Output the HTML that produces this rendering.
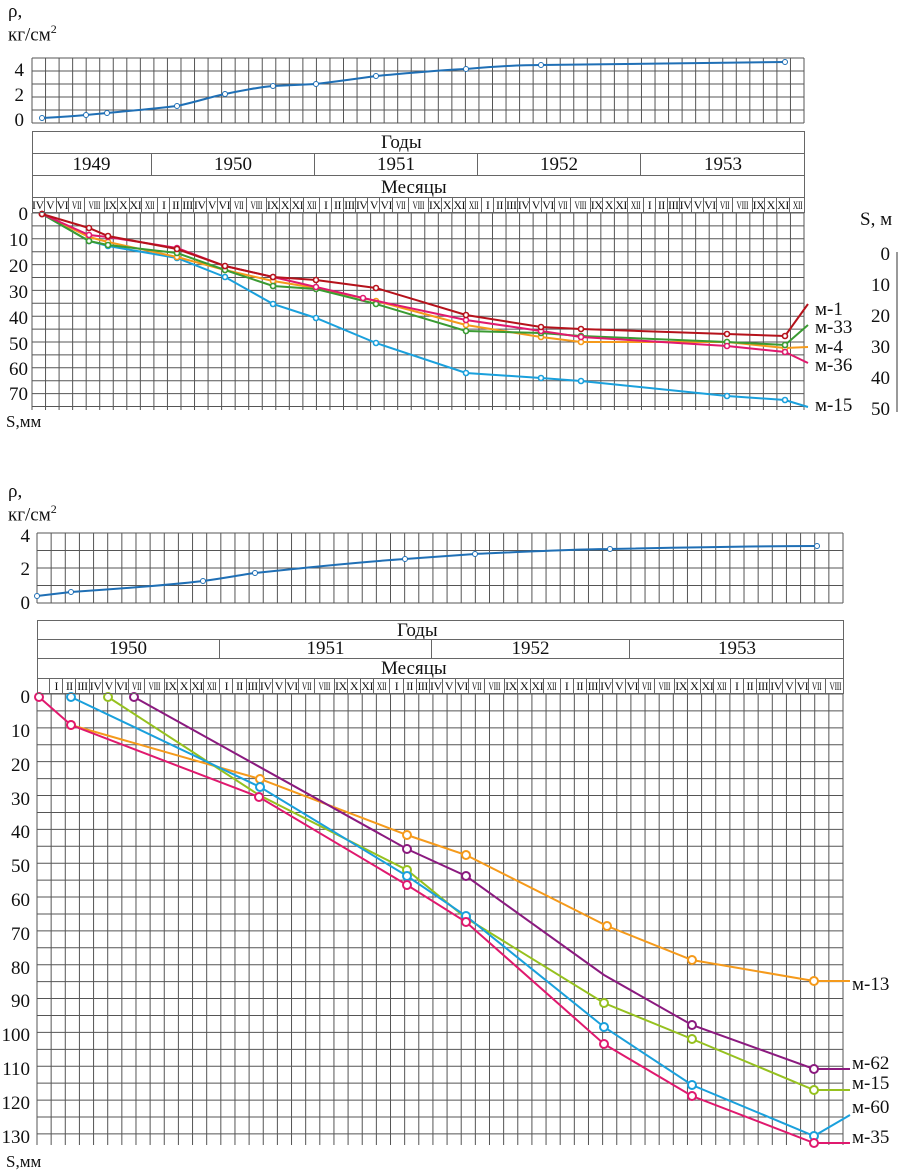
<!DOCTYPE html>
<html><head><meta charset="utf-8">
<style>
body{margin:0;background:#fff;width:900px;height:1172px;position:relative;overflow:hidden;font-family:"Liberation Serif",serif;color:#111}
.a{position:absolute}
.row{position:absolute;display:flex;box-sizing:border-box}
.row span{flex:1;text-align:center;border-right:1px solid #666;box-sizing:border-box;overflow:visible;white-space:nowrap;font-size:12px;line-height:15px;letter-spacing:-0.5px}
.row span:last-child{border-right:none}
.m span i{display:inline-block;font-style:normal;transform:scaleX(.62)}
.box{position:absolute;border:1px solid #666;box-sizing:border-box}
.yr{position:absolute;display:flex;box-sizing:border-box}
.yr div{text-align:center;border-right:1px solid #666;font-size:19px;box-sizing:border-box}
.yr div:last-child{border-right:none}
.t{position:absolute;font-size:19px;line-height:19px}
.r{text-align:right}
</style></head><body>
<svg class="a" style="left:0;top:0" width="900" height="1172" id="sv">
<g id="grid" stroke="#555" stroke-width="1"></g>
<path d="M42,118 C60,117 75,116 86,115 L107,113 C140,110 160,108 177,106 C200,101 210,97 225,94 C245,90 260,87 273,86 L316,84 C340,81 355,79 376,76 C410,73 440,70 466,69 C500,66 520,65 541,65 C650,63 720,63 785,62" fill="none" stroke="#1f6fb5" stroke-width="2"/>
<g fill="#fff" stroke="#1f6fb5" stroke-width="1">
<circle cx="42" cy="118" r="2.5"/><circle cx="86" cy="115" r="2.5"/><circle cx="107" cy="113" r="2.5"/><circle cx="177" cy="106" r="2.5"/><circle cx="225" cy="94" r="2.5"/><circle cx="273" cy="86" r="2.5"/><circle cx="316" cy="84" r="2.5"/><circle cx="376" cy="76" r="2.5"/><circle cx="466" cy="69" r="2.5"/><circle cx="541" cy="65" r="2.5"/><circle cx="785" cy="62" r="2.5"/></g>
<path d="M37,596 L71,592 C130,588 170,585 203,581 C225,578 240,575 255,573 C320,566 360,562 405,559 L475,554 C540,551 580,549 610,549 C700,547 760,546 817,546" fill="none" stroke="#1f6fb5" stroke-width="2"/>
<g fill="#fff" stroke="#1f6fb5" stroke-width="1">
<circle cx="37" cy="596" r="2.5"/><circle cx="71" cy="592" r="2.5"/><circle cx="203" cy="581" r="2.5"/><circle cx="255" cy="573" r="2.5"/><circle cx="405" cy="559" r="2.5"/><circle cx="475" cy="554" r="2.5"/><circle cx="610" cy="549" r="2.5"/><circle cx="817" cy="546" r="2.5"/></g>
<g id="series" fill="none" stroke-width="2"></g>
<line x1="897" y1="252" x2="897" y2="412" stroke="#999" stroke-width="2"/>
</svg>

<div class="t" style="left:8px;top:2px">ρ,</div>
<div class="t" style="left:8px;top:20px">кг/см<sup style="font-size:12px">2</sup></div>
<div class="t r" style="left:0;width:24px;top:61px">4</div>
<div class="t r" style="left:0;width:24px;top:86px">2</div>
<div class="t r" style="left:0;width:24px;top:111px">0</div>

<div class="box" style="left:32px;top:131px;width:773px;height:82px"></div>
<div class="t" style="left:381px;top:133px">Годы</div>
<div class="yr" style="left:32px;top:153px;width:773px;height:23px;border-top:1px solid #666;border-bottom:1px solid #666">
<div style="width:120px">1949</div><div style="width:163px">1950</div><div style="width:163px">1951</div><div style="width:163px">1952</div><div style="flex:1">1953</div></div>
<div class="t" style="left:381px;top:178px">Месяцы</div>
<div class="row m" style="left:32px;top:197px;width:773px;height:16px;border-top:1px solid #666">
<span>IV</span><span>V</span><span>VI</span><span><i>VII</i></span><span><i>VIII</i></span><span>IX</span><span>X</span><span>XI</span><span><i>XII</i></span><span>I</span><span>II</span><span>III</span><span>IV</span><span>V</span><span>VI</span><span><i>VII</i></span><span><i>VIII</i></span><span>IX</span><span>X</span><span>XI</span><span><i>XII</i></span><span>I</span><span>II</span><span>III</span><span>IV</span><span>V</span><span>VI</span><span><i>VII</i></span><span><i>VIII</i></span><span>IX</span><span>X</span><span>XI</span><span><i>XII</i></span><span>I</span><span>II</span><span>III</span><span>IV</span><span>V</span><span>VI</span><span><i>VII</i></span><span><i>VIII</i></span><span>IX</span><span>X</span><span>XI</span><span><i>XII</i></span><span>I</span><span>II</span><span>III</span><span>IV</span><span>V</span><span>VI</span><span><i>VII</i></span><span><i>VIII</i></span><span>IX</span><span>X</span><span>XI</span><span><i>XII</i></span></div>

<div class="t r" style="left:0;width:28px;top:205px">0</div>
<div class="t r" style="left:0;width:28px;top:231px">10</div>
<div class="t r" style="left:0;width:28px;top:257px">20</div>
<div class="t r" style="left:0;width:28px;top:283px">30</div>
<div class="t r" style="left:0;width:28px;top:309px">40</div>
<div class="t r" style="left:0;width:28px;top:335px">50</div>
<div class="t r" style="left:0;width:28px;top:360px">60</div>
<div class="t r" style="left:0;width:28px;top:385px">70</div>
<div class="t" style="left:6px;top:412px;font-size:17px">S,мм</div>

<div class="t" style="left:815px;top:300px">м-1</div>
<div class="t" style="left:815px;top:318px">м-33</div>
<div class="t" style="left:815px;top:338px">м-4</div>
<div class="t" style="left:815px;top:356px">м-36</div>
<div class="t" style="left:815px;top:396px">м-15</div>

<div class="t" style="left:860px;top:210px">S, м</div>
<div class="t r" style="left:850px;width:40px;top:245px">0</div>
<div class="t r" style="left:850px;width:40px;top:276px">10</div>
<div class="t r" style="left:850px;width:40px;top:307px">20</div>
<div class="t r" style="left:850px;width:40px;top:338px">30</div>
<div class="t r" style="left:850px;width:40px;top:369px">40</div>
<div class="t r" style="left:850px;width:40px;top:400px">50</div>

<div class="t" style="left:8px;top:482px">ρ,</div>
<div class="t" style="left:8px;top:500px">кг/см<sup style="font-size:12px">2</sup></div>
<div class="t r" style="left:0;width:30px;top:527px">4</div>
<div class="t r" style="left:0;width:30px;top:560px">2</div>
<div class="t r" style="left:0;width:30px;top:594px">0</div>

<div class="box" style="left:37px;top:620px;width:807px;height:74px"></div>
<div class="t" style="left:397px;top:621px">Годы</div>
<div class="yr" style="left:37px;top:639px;width:807px;height:20px;border-top:1px solid #666;border-bottom:1px solid #666">
<div style="width:183px;line-height:18px">1950</div><div style="width:212px;line-height:18px">1951</div><div style="width:198px;line-height:18px">1952</div><div style="flex:1;line-height:18px">1953</div></div>
<div class="t" style="left:381px;top:659px">Месяцы</div>
<div class="row m" style="left:37px;top:678px;width:807px;height:16px;border-top:1px solid #666">
<span></span><span>I</span><span>II</span><span>III</span><span>IV</span><span>V</span><span>VI</span><span><i>VII</i></span><span><i>VIII</i></span><span>IX</span><span>X</span><span>XI</span><span><i>XII</i></span><span>I</span><span>II</span><span>III</span><span>IV</span><span>V</span><span>VI</span><span><i>VII</i></span><span><i>VIII</i></span><span>IX</span><span>X</span><span>XI</span><span><i>XII</i></span><span>I</span><span>II</span><span>III</span><span>IV</span><span>V</span><span>VI</span><span><i>VII</i></span><span><i>VIII</i></span><span>IX</span><span>X</span><span>XI</span><span><i>XII</i></span><span>I</span><span>II</span><span>III</span><span>IV</span><span>V</span><span>VI</span><span><i>VII</i></span><span><i>VIII</i></span><span>IX</span><span>X</span><span>XI</span><span><i>XII</i></span><span>I</span><span>II</span><span>III</span><span>IV</span><span>V</span><span>VI</span><span><i>VII</i></span><span><i>VIII</i></span></div>

<div class="t r" style="left:0;width:30px;top:688px">0</div>
<div class="t r" style="left:0;width:30px;top:722px">10</div>
<div class="t r" style="left:0;width:30px;top:756px">20</div>
<div class="t r" style="left:0;width:30px;top:790px">30</div>
<div class="t r" style="left:0;width:30px;top:823px">40</div>
<div class="t r" style="left:0;width:30px;top:857px">50</div>
<div class="t r" style="left:0;width:30px;top:891px">60</div>
<div class="t r" style="left:0;width:30px;top:925px">70</div>
<div class="t r" style="left:0;width:30px;top:959px">80</div>
<div class="t r" style="left:0;width:30px;top:992px">90</div>
<div class="t r" style="left:0;width:30px;top:1026px">100</div>
<div class="t r" style="left:0;width:30px;top:1060px">110</div>
<div class="t r" style="left:0;width:30px;top:1094px">120</div>
<div class="t r" style="left:0;width:30px;top:1128px">130</div>
<div class="t" style="left:6px;top:1152px;font-size:17px">S,мм</div>

<div class="t" style="left:852px;top:975px">м-13</div>
<div class="t" style="left:852px;top:1054px">м-62</div>
<div class="t" style="left:852px;top:1074px">м-15</div>
<div class="t" style="left:852px;top:1098px">м-60</div>
<div class="t" style="left:852px;top:1128px">м-35</div>

<script>
var NS="http://www.w3.org/2000/svg",g=document.getElementById('grid'),s=document.getElementById('series');
function L(x1,y1,x2,y2){var l=document.createElementNS(NS,'line');l.setAttribute('x1',x1);l.setAttribute('y1',y1);l.setAttribute('x2',x2);l.setAttribute('y2',y2);g.appendChild(l);}
var i,w;
w=772/57;
for(i=0;i<=57;i++){L(32+i*w,58,32+i*w,123);L(32+i*w,213,32+i*w,410);}
for(i=0;i<=5;i++)L(32,58+i*13,804,58+i*13);
for(var y=213;y<=411;y+=12.9)L(32,y,804,y);
w=806/57;
for(i=0;i<=57;i++){L(37+i*w,533,37+i*w,603);L(37+i*w,694,37+i*w,1145);}
for(i=0;i<=4;i++)L(37,533+i*17.5,843,533+i*17.5);
for(y=694;y<=1146;y+=16.92)L(37,y,843,y);
function P(pts,c,end,rad){var p=document.createElementNS(NS,'polyline');var a=pts.concat([end]);p.setAttribute('points',a.map(function(q){return q[0]+','+q[1]}).join(' '));p.setAttribute('stroke',c);s.appendChild(p);
pts.forEach(function(q){if(q[2])return;var k=document.createElementNS(NS,'circle');k.setAttribute('cx',q[0]);k.setAttribute('cy',q[1]);k.setAttribute('r',rad);k.setAttribute('fill','#fff');k.setAttribute('stroke',c);k.setAttribute('stroke-width',rad>3?2:1.6);s.appendChild(k);});}
P([[42,214],[89,241],[108,246],[177,258],[225,277],[273,304],[316,318],[376,343],[466,373],[541,378],[581,381],[727,396],[785,400]],'#1aa0dc',[808,407],2.5);
P([[42,214],[89,237],[108,242],[177,257],[225,270],[273,281],[316,288],[376,301],[466,325],[541,337],[581,342],[727,342],[785,348]],'#f59a1b',[808,347],2.5);
P([[42,214],[89,241],[108,245],[177,253],[225,270],[273,286],[316,289],[376,304],[466,331],[541,333],[581,336],[727,342],[785,345]],'#3a9b32',[808,325],2.5);
P([[42,214],[89,235],[108,237],[177,248],[225,266],[273,277],[316,287],[363,298],[466,320],[541,331],[581,337],[727,346],[785,352]],'#e0196e',[808,363],2.5);
P([[42,214],[89,228],[108,236],[177,249],[225,266],[273,277],[316,280],[376,288],[466,315],[541,327],[581,329],[727,334],[785,336]],'#b5121b',[808,304],2.5);
P([[71,725],[260,779],[407,835],[466,855],[607,926],[692,960],[814,981]],'#f59a1b',[850,981],4);
P([[134,697],[407,849],[466,876],[604,975,1],[692,1025],[814,1069]],'#8b1a7f',[850,1069],4);
P([[108,697],[259,795,1],[407,870],[466,918],[604,1003],[692,1039],[814,1090]],'#96c11f',[850,1090],4);
P([[71,697],[260,787],[407,876],[466,916],[604,1027],[692,1085],[814,1136]],'#1aa0dc',[850,1115],4);
P([[39,697],[71,725],[259,797],[407,885],[466,922],[604,1044],[692,1096],[814,1143]],'#e0196e',[850,1143],4);
</script>
</body></html>
